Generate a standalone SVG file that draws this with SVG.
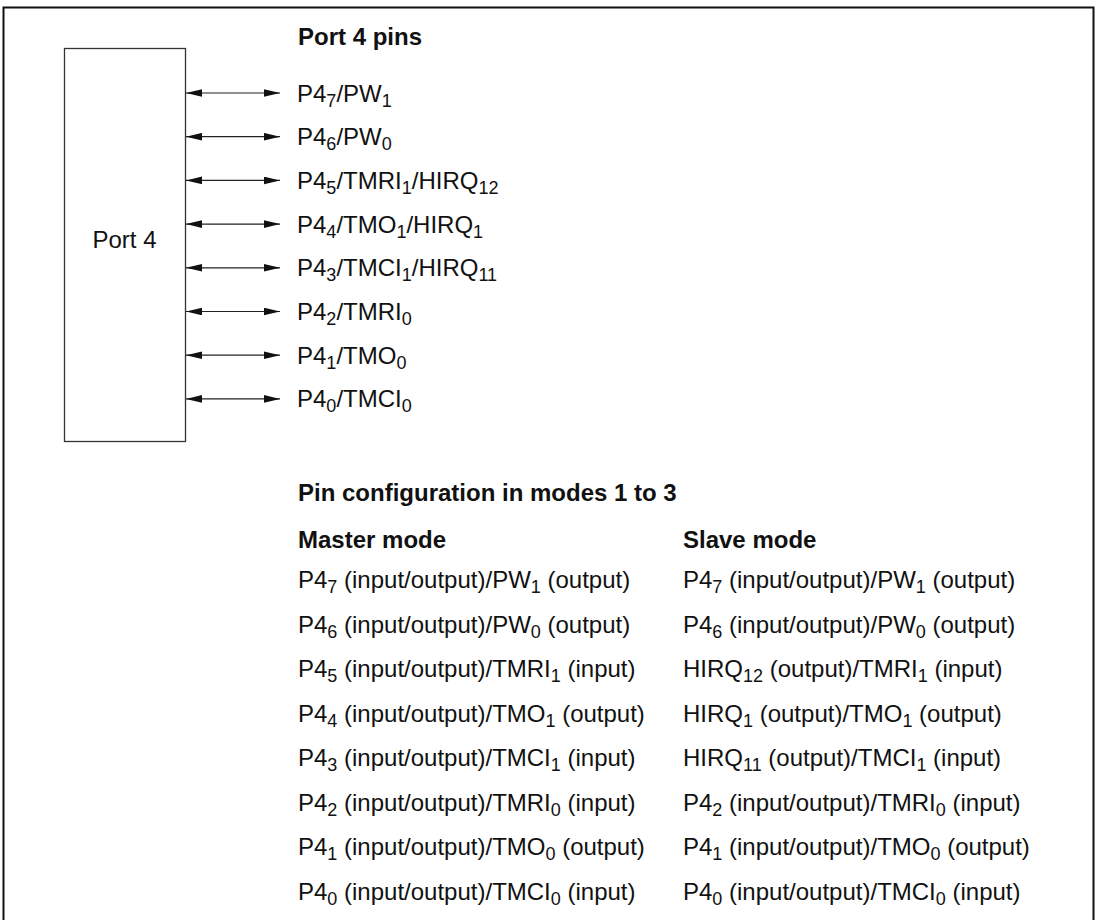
<svg xmlns="http://www.w3.org/2000/svg" width="1099" height="920" viewBox="0 0 1099 920">
<style>
text{font-family:"Liberation Sans",Arial,Helvetica,sans-serif;font-size:24px;fill:#111}
.b{font-weight:bold}
.s{font-size:18px}
.conn line{stroke:#222;stroke-width:1.2;marker-start:url(#ah);marker-end:url(#ah)}
</style>
<defs>
<marker id="ah" markerUnits="userSpaceOnUse" markerWidth="16" markerHeight="8" refX="16" refY="3.8" orient="auto-start-reverse">
<path d="M0,0 L16,3.8 L0,7.6 z" fill="#111"/>
</marker>
</defs>
<rect width="1099" height="920" fill="#fff"/>
<path d="M3.5,925 V7.5 H1093.5 V925" fill="none" stroke="#111" stroke-width="2"/>
<g id="port4">
<rect x="64.5" y="48.5" width="121" height="393" fill="#fff" stroke="#333" stroke-width="1.3"/>
<text x="124.5" y="248" text-anchor="middle">Port 4</text>
</g>
<g id="connectors" class="conn">
<line x1="186" y1="93" x2="280" y2="93"/>
<line x1="186" y1="136.7" x2="280" y2="136.7"/>
<line x1="186" y1="180.4" x2="280" y2="180.4"/>
<line x1="186" y1="224.1" x2="280" y2="224.1"/>
<line x1="186" y1="267.8" x2="280" y2="267.8"/>
<line x1="186" y1="311.5" x2="280" y2="311.5"/>
<line x1="186" y1="355.2" x2="280" y2="355.2"/>
<line x1="186" y1="398.9" x2="280" y2="398.9"/>
</g>
<g id="pins">
<text class="b" x="298" y="45">Port 4 pins</text>
<text x="297" y="101.5">P4<tspan class="s" dy="5">7</tspan><tspan dy="-5">/PW</tspan><tspan class="s" dy="5">1</tspan></text>
<text x="297" y="145.2">P4<tspan class="s" dy="5">6</tspan><tspan dy="-5">/PW</tspan><tspan class="s" dy="5">0</tspan></text>
<text x="297" y="188.9">P4<tspan class="s" dy="5">5</tspan><tspan dy="-5">/TMRI</tspan><tspan class="s" dy="5">1</tspan><tspan dy="-5">/HIRQ</tspan><tspan class="s" dy="5">12</tspan></text>
<text x="297" y="232.6">P4<tspan class="s" dy="5">4</tspan><tspan dy="-5">/TMO</tspan><tspan class="s" dy="5">1</tspan><tspan dy="-5">/HIRQ</tspan><tspan class="s" dy="5">1</tspan></text>
<text x="297" y="276.3">P4<tspan class="s" dy="5">3</tspan><tspan dy="-5">/TMCI</tspan><tspan class="s" dy="5">1</tspan><tspan dy="-5">/HIRQ</tspan><tspan class="s" dy="5">11</tspan></text>
<text x="297" y="320">P4<tspan class="s" dy="5">2</tspan><tspan dy="-5">/TMRI</tspan><tspan class="s" dy="5">0</tspan></text>
<text x="297" y="363.7">P4<tspan class="s" dy="5">1</tspan><tspan dy="-5">/TMO</tspan><tspan class="s" dy="5">0</tspan></text>
<text x="297" y="407.4">P4<tspan class="s" dy="5">0</tspan><tspan dy="-5">/TMCI</tspan><tspan class="s" dy="5">0</tspan></text>
</g>
<g id="config">
<text class="b" x="298" y="501">Pin configuration in modes 1 to 3</text>
<text class="b" x="298" y="548">Master mode</text>
<text class="b" x="683" y="548">Slave mode</text>
</g>
<g id="master">
<text x="298" y="588">P4<tspan class="s" dy="5">7</tspan><tspan dy="-5"> (input/output)/PW</tspan><tspan class="s" dy="5">1</tspan><tspan dy="-5"> (output)</tspan></text>
<text x="298" y="632.5">P4<tspan class="s" dy="5">6</tspan><tspan dy="-5"> (input/output)/PW</tspan><tspan class="s" dy="5">0</tspan><tspan dy="-5"> (output)</tspan></text>
<text x="298" y="677">P4<tspan class="s" dy="5">5</tspan><tspan dy="-5"> (input/output)/TMRI</tspan><tspan class="s" dy="5">1</tspan><tspan dy="-5"> (input)</tspan></text>
<text x="298" y="721.5">P4<tspan class="s" dy="5">4</tspan><tspan dy="-5"> (input/output)/TMO</tspan><tspan class="s" dy="5">1</tspan><tspan dy="-5"> (output)</tspan></text>
<text x="298" y="766">P4<tspan class="s" dy="5">3</tspan><tspan dy="-5"> (input/output)/TMCI</tspan><tspan class="s" dy="5">1</tspan><tspan dy="-5"> (input)</tspan></text>
<text x="298" y="810.5">P4<tspan class="s" dy="5">2</tspan><tspan dy="-5"> (input/output)/TMRI</tspan><tspan class="s" dy="5">0</tspan><tspan dy="-5"> (input)</tspan></text>
<text x="298" y="855">P4<tspan class="s" dy="5">1</tspan><tspan dy="-5"> (input/output)/TMO</tspan><tspan class="s" dy="5">0</tspan><tspan dy="-5"> (output)</tspan></text>
<text x="298" y="899.5">P4<tspan class="s" dy="5">0</tspan><tspan dy="-5"> (input/output)/TMCI</tspan><tspan class="s" dy="5">0</tspan><tspan dy="-5"> (input)</tspan></text>
</g>
<g id="slave">
<text x="683" y="588">P4<tspan class="s" dy="5">7</tspan><tspan dy="-5"> (input/output)/PW</tspan><tspan class="s" dy="5">1</tspan><tspan dy="-5"> (output)</tspan></text>
<text x="683" y="632.5">P4<tspan class="s" dy="5">6</tspan><tspan dy="-5"> (input/output)/PW</tspan><tspan class="s" dy="5">0</tspan><tspan dy="-5"> (output)</tspan></text>
<text x="683" y="677">HIRQ<tspan class="s" dy="5">12</tspan><tspan dy="-5"> (output)/TMRI</tspan><tspan class="s" dy="5">1</tspan><tspan dy="-5"> (input)</tspan></text>
<text x="683" y="721.5">HIRQ<tspan class="s" dy="5">1</tspan><tspan dy="-5"> (output)/TMO</tspan><tspan class="s" dy="5">1</tspan><tspan dy="-5"> (output)</tspan></text>
<text x="683" y="766">HIRQ<tspan class="s" dy="5">11</tspan><tspan dy="-5"> (output)/TMCI</tspan><tspan class="s" dy="5">1</tspan><tspan dy="-5"> (input)</tspan></text>
<text x="683" y="810.5">P4<tspan class="s" dy="5">2</tspan><tspan dy="-5"> (input/output)/TMRI</tspan><tspan class="s" dy="5">0</tspan><tspan dy="-5"> (input)</tspan></text>
<text x="683" y="855">P4<tspan class="s" dy="5">1</tspan><tspan dy="-5"> (input/output)/TMO</tspan><tspan class="s" dy="5">0</tspan><tspan dy="-5"> (output)</tspan></text>
<text x="683" y="899.5">P4<tspan class="s" dy="5">0</tspan><tspan dy="-5"> (input/output)/TMCI</tspan><tspan class="s" dy="5">0</tspan><tspan dy="-5"> (input)</tspan></text>
</g>
</svg>
